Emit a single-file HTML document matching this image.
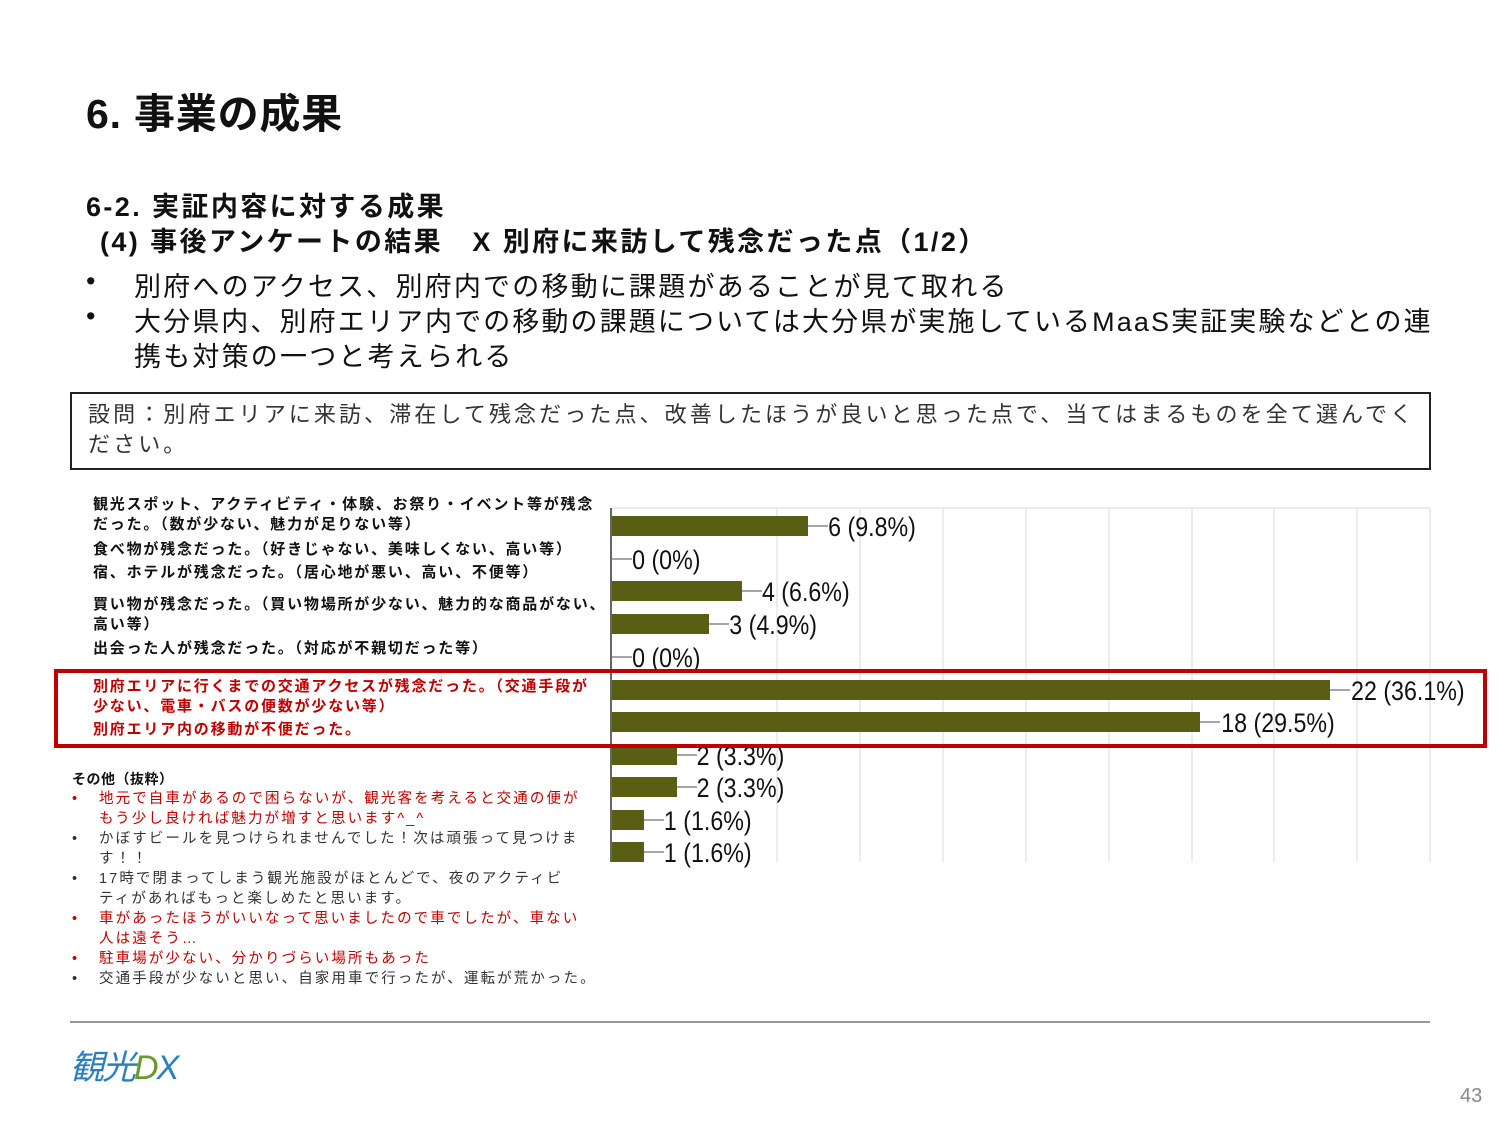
<!DOCTYPE html>
<html><head><meta charset="utf-8"><style>
body{margin:0;background:#fff;}
#p{position:relative;width:1500px;height:1125px;overflow:hidden;font-family:"Liberation Sans","Noto Sans CJK JP",sans-serif;color:#111;}
.a{position:absolute;white-space:nowrap;}
.lb{position:absolute;left:93px;font-size:15px;font-weight:bold;line-height:20px;white-space:nowrap;letter-spacing:1.8px;}
.r{color:#c00000;}
.o{position:absolute;left:72px;font-size:14.5px;line-height:20px;white-space:nowrap;letter-spacing:2.1px;}
.o span{display:inline-block;width:27px;letter-spacing:0;}
</style></head><body><div id="p">
<div class="a" style="left:86px;top:80px;font-size:41px;font-weight:bold;letter-spacing:0.8px;">6. 事業の成果</div>
<div class="a" style="left:86px;top:185px;font-size:27px;font-weight:bold;letter-spacing:2.4px;">6-2. 実証内容に対する成果</div>
<div class="a" style="left:100px;top:220px;font-size:27px;font-weight:bold;letter-spacing:2.4px;">(4) 事後アンケートの結果　X 別府に来訪して残念だった点（1/2）</div>
<div class="a" style="left:86px;top:266px;font-size:27px;">•</div>
<div class="a" style="left:134px;top:265px;font-size:27px;letter-spacing:2.2px;">別府へのアクセス、別府内での移動に課題があることが見て取れる</div>
<div class="a" style="left:86px;top:301px;font-size:27px;">•</div>
<div class="a" style="left:134px;top:300px;font-size:27px;letter-spacing:2.1px;">大分県内、別府エリア内での移動の課題については大分県が実施しているMaaS実証実験などとの連</div>
<div class="a" style="left:134px;top:335px;font-size:27px;letter-spacing:2.2px;">携も対策の一つと考えられる</div>
<div class="a" style="left:70px;top:392px;width:1357px;height:74px;border:2px solid #222;"></div>
<div class="a" style="left:88px;top:400px;font-size:22px;line-height:30px;color:#333;letter-spacing:3.1px;">設問：別府エリアに来訪、滞在して残念だった点、改善したほうが良いと思った点で、当てはまるものを全て選んでく<br>ださい。</div>

<div class="lb" style="top:495px">観光スポット、アクティビティ・体験、お祭り・イベント等が残念<br>だった。（数が少ない、魅力が足りない等）</div>
<div class="lb" style="top:540px">食べ物が残念だった。（好きじゃない、美味しくない、高い等）</div>
<div class="lb" style="top:563px">宿、ホテルが残念だった。（居心地が悪い、高い、不便等）</div>
<div class="lb" style="top:595px">買い物が残念だった。（買い物場所が少ない、魅力的な商品がない、<br>高い等）</div>
<div class="lb" style="top:639px">出会った人が残念だった。（対応が不親切だった等）</div>
<div class="lb r" style="top:677px">別府エリアに行くまでの交通アクセスが残念だった。（交通手段が<br>少ない、電車・バスの便数が少ない等）</div>
<div class="lb r" style="top:720px">別府エリア内の移動が不便だった。</div>

<svg class="a" style="left:0;top:0" width="1500" height="1125">
<g stroke="#e6e6e6" stroke-width="1.5">
<line x1="612" y1="508" x2="1430" y2="508"/>
<line x1="777" y1="508" x2="777" y2="862"/><line x1="860" y1="508" x2="860" y2="862"/><line x1="943" y1="508" x2="943" y2="862"/><line x1="1026" y1="508" x2="1026" y2="862"/><line x1="1109" y1="508" x2="1109" y2="862"/><line x1="1192" y1="508" x2="1192" y2="862"/><line x1="1274" y1="508" x2="1274" y2="862"/><line x1="1357" y1="508" x2="1357" y2="862"/><line x1="1430" y1="508" x2="1430" y2="862"/>
</g>
<line x1="611" y1="508" x2="611" y2="862" stroke="#333" stroke-width="1.5"/>
<g fill="#5a5e14">
<rect x="612" y="516" width="196" height="20"/>
<rect x="612" y="581" width="130" height="20"/>
<rect x="612" y="614" width="97" height="20"/>
<rect x="612" y="680" width="718" height="20"/>
<rect x="612" y="712" width="588" height="20"/>
<rect x="612" y="745" width="65" height="20"/>
<rect x="612" y="777" width="65" height="20"/>
<rect x="612" y="810" width="32" height="20"/>
<rect x="612" y="842" width="32" height="20"/>
</g>
<g stroke="#888" stroke-width="1.5">
<line x1="808" y1="526" x2="828" y2="526"/><line x1="612" y1="559" x2="632" y2="559"/><line x1="742" y1="591" x2="762" y2="591"/><line x1="709" y1="624" x2="729" y2="624"/><line x1="612" y1="657" x2="632" y2="657"/><line x1="1330" y1="690" x2="1350" y2="690"/><line x1="1200" y1="722" x2="1220" y2="722"/><line x1="677" y1="755" x2="697" y2="755"/><line x1="677" y1="787" x2="697" y2="787"/><line x1="644" y1="820" x2="664" y2="820"/><line x1="644" y1="852" x2="664" y2="852"/>
</g>
<g font-family="Liberation Sans,sans-serif" font-size="27" fill="#111" transform="scale(0.86,1)">
<text x="963" y="536">6 (9.8%)</text>
<text x="735" y="569">0 (0%)</text>
<text x="886" y="601">4 (6.6%)</text>
<text x="848" y="634">3 (4.9%)</text>
<text x="735" y="667">0 (0%)</text>
<text x="1571" y="700">22 (36.1%)</text>
<text x="1420" y="732">18 (29.5%)</text>
<text x="810" y="765">2 (3.3%)</text>
<text x="810" y="797">2 (3.3%)</text>
<text x="772" y="830">1 (1.6%)</text>
<text x="772" y="862">1 (1.6%)</text>
</g>
<rect x="56" y="671" width="1429" height="75" fill="none" stroke="#c00000" stroke-width="4"/>
<line x1="70" y1="1022" x2="1430" y2="1022" stroke="#999" stroke-width="2"/>
</svg>

<div class="o" style="top:769px;font-weight:bold;font-size:14px;letter-spacing:0.5px;">その他（抜粋）</div>
<div class="o r" style="top:789px"><span>•</span>地元で自車があるので困らないが、観光客を考えると交通の便が</div>
<div class="o r" style="top:809px"><span></span>もう少し良ければ魅力が増すと思います^_^</div>
<div class="o" style="top:829px;color:#333"><span>•</span>かぼすビールを見つけられませんでした！次は頑張って見つけま</div>
<div class="o" style="top:849px;color:#333"><span></span>す！！</div>
<div class="o" style="top:869px;color:#333"><span>•</span>17時で閉まってしまう観光施設がほとんどで、夜のアクティビ</div>
<div class="o" style="top:889px;color:#333"><span></span>ティがあればもっと楽しめたと思います。</div>
<div class="o r" style="top:909px"><span>•</span>車があったほうがいいなって思いましたので車でしたが、車ない</div>
<div class="o r" style="top:929px"><span></span>人は遠そう…</div>
<div class="o r" style="top:949px"><span>•</span>駐車場が少ない、分かりづらい場所もあった</div>
<div class="o" style="top:969px;color:#333"><span>•</span>交通手段が少ないと思い、自家用車で行ったが、運転が荒かった。</div>

<div class="a" style="left:70px;top:1040px;font-size:34px;color:#2a7fc0;font-style:italic;letter-spacing:-2px;">観光<span style="color:#6a9a2a">D</span>X</div>
<div class="a" style="left:1460px;top:1085px;font-size:20px;color:#888;">43</div>
</div></body></html>
